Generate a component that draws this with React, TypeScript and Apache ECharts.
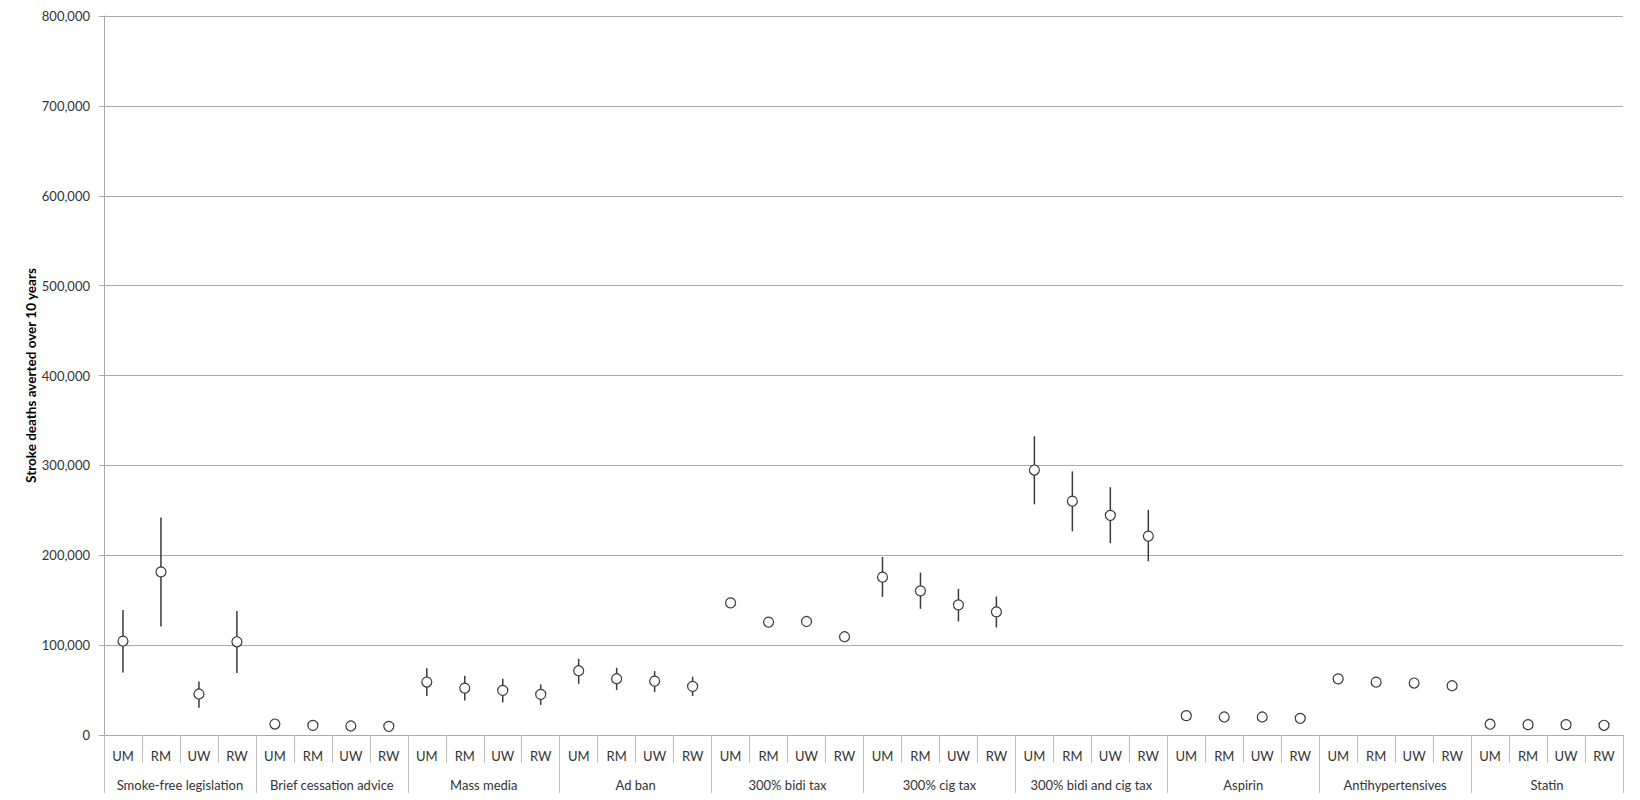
import { useRef, useEffect } from 'react'
import * as echarts from 'echarts'

// interventions (outer axis level)
const groups = [
  'Smoke-free legislation',
  'Brief cessation advice',
  'Mass media',
  'Ad ban',
  '300% bidi tax',
  '300% cig tax',
  '300% bidi and cig tax',
  'Aspirin',
  'Antihypertensives',
  'Statin'
]

// population subgroups (inner axis level)
const subgroups = ['UM', 'RM', 'UW', 'RW']

const categories = groups.flatMap(() => subgroups)

// central estimates, one per group x subgroup
const centralValues = [
  104400, 181500, 45600, 103700,
  12200, 10700, 10000, 9600,
  58900, 52200, 49600, 45200,
  71500, 62600, 60000, 54100,
  147000, 125600, 126300, 109300,
  175600, 160400, 144800, 137000,
  294800, 260200, 244400, 221300,
  21500, 20000, 20000, 18500,
  62500, 58800, 57800, 54800,
  12000, 11500, 11500, 10800
]

// uncertainty interval, null where no bar is drawn
const lowValues = [
  69600, 120700, 30400, 68900,
  null, null, null, null,
  43300, 38500, 36300, 33300,
  57000, 50000, 47800, 43300,
  null, null, null, null,
  153700, 140400, 126300, 119600,
  256700, 226600, 213400, 193300,
  null, null, null, null,
  null, null, null, null,
  null, null, null, null
]

const highValues = [
  139000, 242000, 59600, 138000,
  null, null, null, null,
  74400, 65900, 62600, 56300,
  84800, 74800, 71100, 64800,
  null, null, null, null,
  198100, 180700, 162600, 154100,
  332400, 293300, 275700, 250400,
  null, null, null, null,
  null, null, null, null,
  null, null, null, null
]

const FONT = 'Lato, "Open Sans", sans-serif'
const TEXT = '#333333'
const GRID = '#aaaaaa'
const TICK = '#c0c0c0'

export default function App() {
  const chartRef = useRef<HTMLDivElement>(null)

  useEffect(() => {
    if (!chartRef.current) return
    const chart = echarts.init(chartRef.current, null, { renderer: 'svg' })

    const errorData = categories
      .map((_, i) => [i, lowValues[i], highValues[i]])
      .filter((d) => d[1] != null && d[2] != null)

    chart.setOption({
      animation: false,
      backgroundColor: '#fff',
      textStyle: { fontFamily: FONT },
      grid: { left: 104, right: 17, top: 16, bottom: 65 },
      xAxis: [
        {
          type: 'category',
          data: categories,
          position: 'bottom',
          boundaryGap: true,
          axisLine: { show: true, lineStyle: { color: GRID, width: 1 } },
          axisTick: {
            show: true,
            interval: 0,
            length: 28,
            lineStyle: { color: TICK, width: 1 }
          },
          axisLabel: {
            interval: 0,
            margin: 14,
            color: TEXT,
            fontSize: 13,
            fontFamily: FONT
          },
          splitLine: { show: false }
        },
        {
          type: 'category',
          data: groups,
          position: 'bottom',
          offset: 0,
          boundaryGap: true,
          axisLine: { show: false },
          axisTick: {
            show: true,
            interval: 0,
            length: 58,
            lineStyle: { color: TICK, width: 1 }
          },
          axisLabel: {
            interval: 0,
            margin: 43,
            color: TEXT,
            fontSize: 13,
            fontFamily: FONT
          },
          splitLine: { show: false }
        }
      ],
      yAxis: {
        type: 'value',
        min: 0,
        max: 800000,
        interval: 100000,
        name: 'Stroke deaths averted over 10 years',
        nameLocation: 'middle',
        nameGap: 66,
        nameMoveOverlap: false,
        nameTextStyle: {
          color: '#000',
          fontSize: 13.5,
          fontWeight: 'bold',
          fontFamily: FONT
        },
        axisLine: { show: true, lineStyle: { color: GRID, width: 1 } },
        axisTick: { show: true, length: 5, lineStyle: { color: GRID } },
        axisLabel: {
          margin: 14,
          color: TEXT,
          fontSize: 13,
          fontFamily: FONT,
          formatter: (v: number) => v.toLocaleString('en-US')
        },
        splitLine: { show: true, lineStyle: { color: GRID, width: 1 } }
      },
      series: [
        {
          type: 'custom',
          name: 'range',
          xAxisIndex: 0,
          data: errorData,
          encode: { x: 0, y: [1, 2] },
          z: 2,
          renderItem: (_params: any, api: any) => {
            const x = api.value(0)
            const lo = api.coord([x, api.value(1)])
            const hi = api.coord([x, api.value(2)])
            return {
              type: 'line',
              shape: { x1: lo[0], y1: lo[1], x2: hi[0], y2: hi[1] },
              style: { stroke: '#3a3a3a', lineWidth: 1.5 }
            }
          }
        },
        {
          type: 'scatter',
          name: 'estimate',
          xAxisIndex: 0,
          data: centralValues,
          symbol: 'circle',
          symbolSize: 10,
          z: 3,
          itemStyle: {
            color: '#fff',
            borderColor: '#3a3a3a',
            borderWidth: 1.2,
            opacity: 1
          }
        }
      ]
    })

    return () => {
      chart.dispose()
    }
  }, [])

  return (
    <div
      ref={chartRef}
      style={{ position: 'fixed', left: 0, top: 0, width: 1640, height: 800 }}
    />
  )
}
